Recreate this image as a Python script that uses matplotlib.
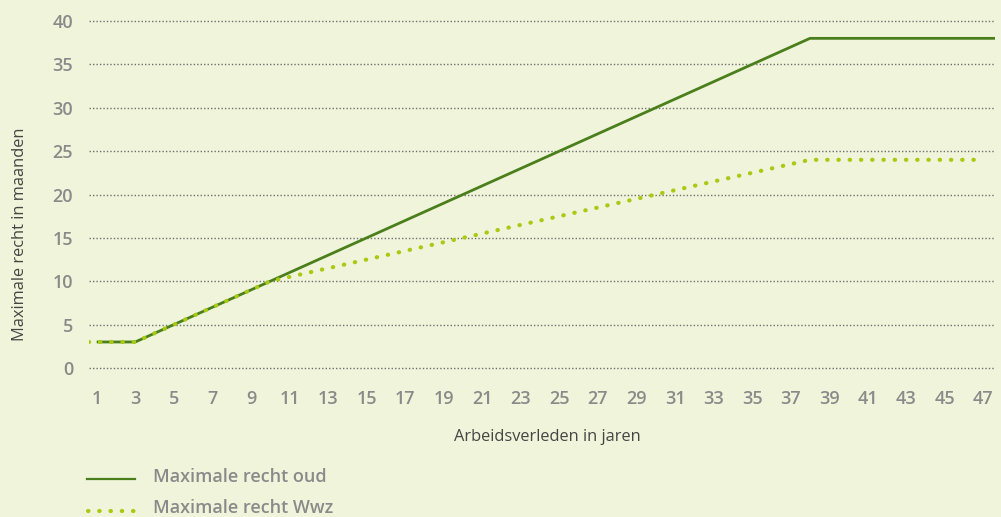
import numpy as np
import matplotlib
matplotlib.use("Agg")
from matplotlib import pyplot as plt
from matplotlib.lines import Line2D

# data: months of maximum entitlement per year of work history
jaren_oud = [1, 2, 3, 4, 5, 6, 7, 8, 9, 10, 11, 12, 13, 14, 15, 16, 17, 18, 19, 20,
             21, 22, 23, 24, 25, 26, 27, 28, 29, 30, 31, 32, 33, 34, 35, 36, 37, 38,
             39, 40, 41, 42, 43, 44, 45, 46, 47, 48]
recht_oud = [3, 3, 3, 4, 5, 6, 7, 8, 9, 10, 11, 12, 13, 14, 15, 16, 17, 18, 19, 20,
             21, 22, 23, 24, 25, 26, 27, 28, 29, 30, 31, 32, 33, 34, 35, 36, 37, 38,
             38, 38, 38, 38, 38, 38, 38, 38, 38, 38]
jaren_wwz = [0, 1, 2, 3, 4, 5, 6, 7, 8, 9, 10, 11, 12, 13, 14, 15, 16, 17, 18, 19, 20,
             21, 22, 23, 24, 25, 26, 27, 28, 29, 30, 31, 32, 33, 34, 35, 36, 37, 38,
             39, 40, 41, 42, 43, 44, 45, 46, 47]
recht_wwz = [3, 3, 3, 3, 4, 5, 6, 7, 8, 9, 10, 10.5, 11, 11.5, 12, 12.5, 13, 13.5, 14,
             14.5, 15, 15.5, 16, 16.5, 17, 17.5, 18, 18.5, 19, 19.5, 20, 20.5, 21, 21.5,
             22, 22.5, 23, 23.5, 24, 24, 24, 24, 24, 24, 24, 24, 24, 24]
xticks = list(range(1, 48, 2))
yticks = list(range(0, 41, 5))

bg = '#f0f4da'
donker = '#4a7f1c'
licht = '#a9c912'
grijs = '#8a8a8a'

plt.rcParams['font.family'] = ['Open Sans', 'DejaVu Sans']

fig = plt.figure(figsize=(10.01, 5.17), dpi=100, facecolor=bg)
ax = fig.add_axes([89/1001, 1-368/517, (995-89)/1001, (368-21)/517], facecolor=bg)

# dotted gridlines, drawn one by one so the 0 line is not clipped away
for t in yticks:
    ax.axhline(t, color='#707070', linestyle=(0, (1, 1.5)), lw=1.0, clip_on=False, zorder=2.5)

ax.plot(jaren_oud, recht_oud, color=donker, lw=2.0, solid_capstyle='butt', zorder=3)
ax.plot(jaren_wwz, recht_wwz, color=licht, lw=3, linestyle=(0, (0.1, 2.6)),
        dash_capstyle='round', zorder=3)

ax.set_xlim(0.6, 47.6)
ax.set_ylim(0, 40)
ax.set_yticks(yticks)
ax.set_xticks(xticks)
ax.set_xticklabels([str(t) for t in xticks], color=grijs, fontsize=13, fontweight='semibold')
ax.set_yticklabels([str(t) for t in yticks], color=grijs, fontsize=13, fontweight='semibold')
ax.tick_params(length=0)
ax.tick_params(axis='x', pad=16)
ax.tick_params(axis='y', pad=11.5)
for s in ax.spines.values():
    s.set_visible(False)

ax.set_xlabel('Arbeidsverleden in jaren', color='#454545', fontsize=11.8, va='top')
ax.xaxis.set_label_coords(0.506, -0.176)
ax.set_ylabel('Maximale recht in maanden', color='#454545', fontsize=11.8)
ax.yaxis.set_label_coords(-0.0673, 0.385)

# legend below the chart
fig.add_artist(Line2D([87/1001, 135/1001], [1-479/517, 1-479/517], color=donker, lw=1.6))
fig.add_artist(Line2D([88/1001, 137/1001], [1-511/517, 1-511/517], color=licht, lw=3,
                      linestyle=(0, (0.1, 2.6)), dash_capstyle='round'))
fig.text(153/1001, 1-477/517, 'Maximale recht oud', color=grijs, fontsize=13,
         fontweight='semibold', va='center')
fig.text(153/1001, 1-508/517, 'Maximale recht Wwz', color=grijs, fontsize=13,
         fontweight='semibold', va='center')

fig.savefig('out.png', dpi=100, facecolor=bg)
